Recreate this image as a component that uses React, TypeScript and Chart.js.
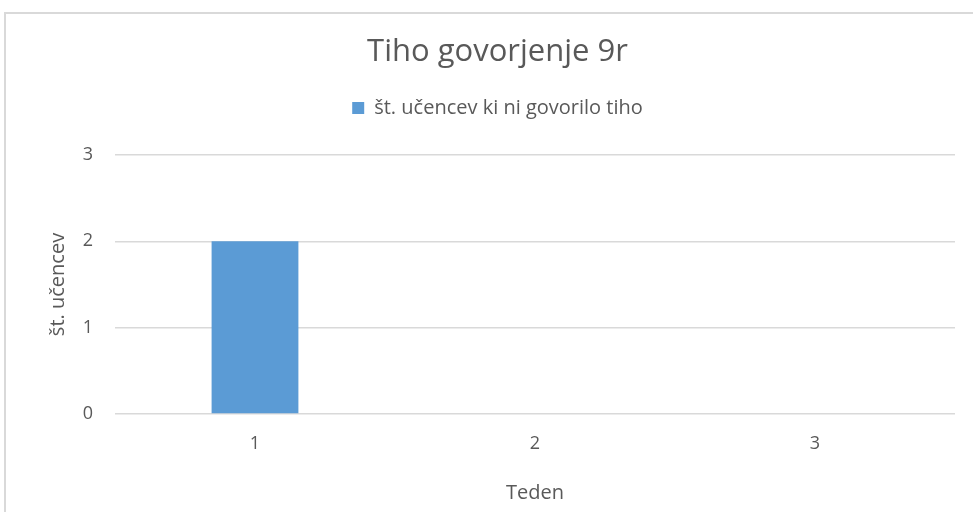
import React, { useEffect, useRef } from "react";
import { Chart, registerables } from "chart.js";

Chart.register(...registerables);

const categories = ["1", "2", "3"];
const seriesLabel = "št. učencev ki ni govorilo tiho";
const seriesValues = [2, 0, 0];
const chartTitle = "Tiho govorjenje 9r";
const xTitle = "Teden";
const yTitle = "št. učencev";

const FONT = "'Open Sans', 'Noto Sans', sans-serif";
const TEXT = "#595959";

const legendSpacer = {
  id: "legendSpacer",
  beforeUpdate(chart: any) {
    const lg = chart.legend;
    if (lg && !lg.__spaced) {
      const orig = lg.fit;
      lg.fit = function () {
        orig.call(this);
        this.height += 27;
      };
      lg.__spaced = true;
    }
  },
};

export default function App() {
  const ref = useRef<HTMLCanvasElement | null>(null);
  useEffect(() => {
    if (!ref.current) return;
    const chart = new Chart(ref.current, {
      type: "bar",
      data: {
        labels: categories,
        datasets: [
          {
            label: seriesLabel,
            data: seriesValues,
            backgroundColor: "#5b9bd5",
            borderWidth: 0,
            categoryPercentage: 1,
            barPercentage: 0.31,
          },
        ],
      },
      plugins: [legendSpacer],
      options: {
        animation: false,
        responsive: false,
        maintainAspectRatio: false,
        layout: { padding: { top: 33.4, left: 40, right: 18, bottom: 7 } },
        plugins: {
          title: {
            display: true,
            text: chartTitle,
            color: TEXT,
            font: { family: FONT, size: 31, weight: "normal" },
            padding: { top: 0, bottom: 17.4 },
          },
          legend: {
            display: true,
            position: "top",
            labels: {
              color: TEXT,
              font: { family: FONT, size: 20 },
              boxWidth: 12,
              boxHeight: 12,
              padding: 10,
            },
          },
          tooltip: { enabled: false },
        },
        scales: {
          x: {
            grid: { display: false },
            border: { display: false },
            ticks: { color: TEXT, font: { family: FONT, size: 18 }, padding: 11 },
            title: {
              display: true,
              text: xTitle,
              color: TEXT,
              font: { family: FONT, size: 20 },
              padding: { top: 0, bottom: 0 },
            },
            afterFit: (scale: any) => {
              scale.height = 91;
            },
          },
          y: {
            min: 0,
            max: 3,
            ticks: { stepSize: 1, color: TEXT, font: { family: FONT, size: 18 }, padding: 22 },
            grid: { color: "#d9d9d9", lineWidth: 1.5, drawTicks: false },
            border: { display: false },
            title: {
              display: true,
              text: yTitle,
              color: TEXT,
              font: { family: FONT, size: 20 },
              padding: { top: 6, bottom: 0 },
            },
            afterFit: (scale: any) => {
              scale.width = 75;
            },
          },
        },
      },
    });
    return () => chart.destroy();
  }, []);
  return (
    <div style={{ position: "fixed", left: 0, top: 0, width: 973, height: 512, background: "#fff" }}>
      <div
        style={{
          position: "absolute",
          left: 4,
          top: 12,
          width: 1000,
          height: 520,
          border: "2px solid #d9d9d9",
          boxSizing: "border-box",
        }}
      />
      <canvas ref={ref} width={973} height={512} style={{ position: "absolute", left: 0, top: 0 }} />
    </div>
  );
}
